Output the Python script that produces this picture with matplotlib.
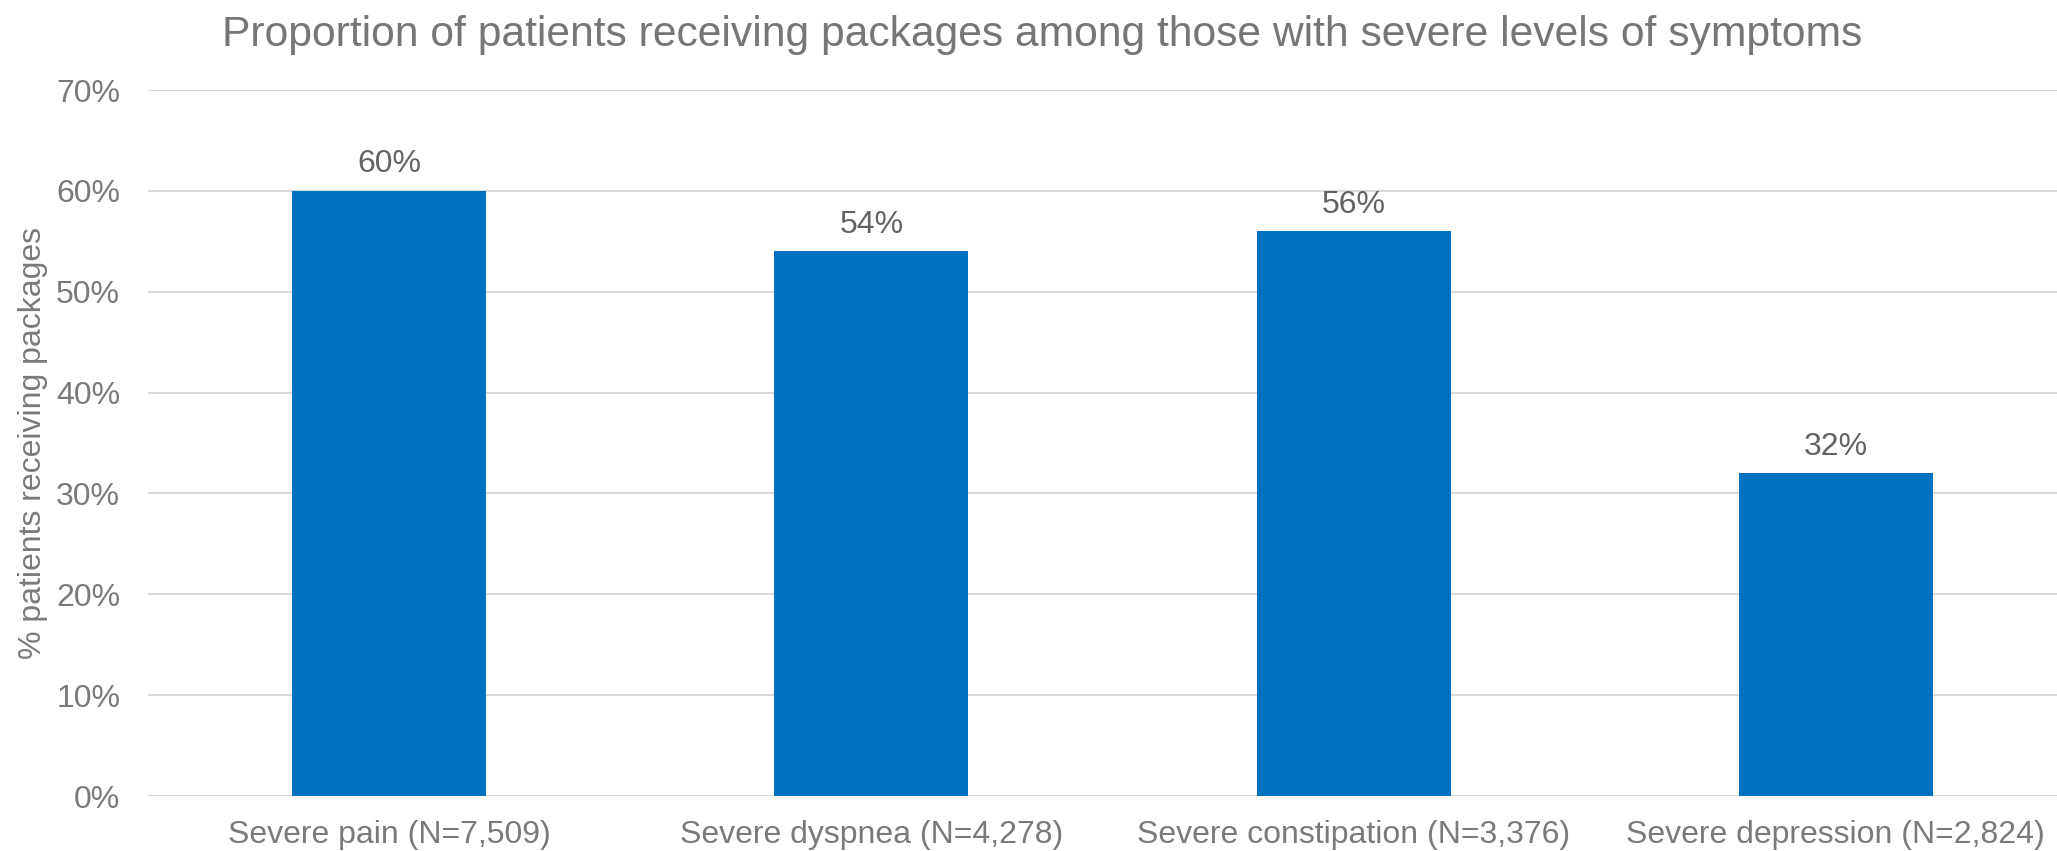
import matplotlib
matplotlib.use("Agg")
import matplotlib.pyplot as plt
from matplotlib.ticker import PercentFormatter

categories = ["Severe pain (N=7,509)", "Severe dyspnea (N=4,278)",
              "Severe constipation (N=3,376)", "Severe depression (N=2,824)"]
values = [60, 54, 56, 32]
yticks = [0, 10, 20, 30, 40, 50, 60, 70]

plt.rcParams['font.family'] = ['Liberation Sans', 'DejaVu Sans']

W, H = 2057, 851
fig = plt.figure(figsize=(W / 100, H / 100), dpi=100)
ax_left, ax_right = 148, 2077
ax = fig.add_axes([ax_left / W, 1 - 796 / H, (ax_right - ax_left) / W, (796 - 90) / H])

x = list(range(len(categories)))
bars = ax.bar(x, values, width=0.402, color="#0070C0", zorder=3)

ax.set_xlim(-0.5, 3.5)
ax.set_ylim(0, 70)
ax.set_yticks(yticks)
ax.yaxis.set_major_formatter(PercentFormatter(decimals=0))
ax.set_xticks(x)
ax.set_xticklabels(categories)

ax.grid(axis='y', color="#D9D9D9", linewidth=1.5, zorder=0)
ax.set_axisbelow(True)
for s in ax.spines.values():
    s.set_visible(False)
ax.tick_params(axis='both', length=0, labelsize=23, labelcolor="#7A7A7A")
ax.tick_params(axis='y', pad=20)
ax.tick_params(axis='x', pad=17)

for xi, v in zip(x, values):
    ax.annotate(f"{v}%", xy=(xi, v), xytext=(0, 13.3), textcoords='offset points',
                ha='center', va='baseline', fontsize=23, color="#636363")

ax.set_ylabel("% patients receiving packages", fontsize=23, color="#7A7A7A")
ax.yaxis.set_label_coords(-(ax_left - 48) / (ax_right - ax_left), (796 - 443) / (796 - 90))

fig.text(1042 / W, 1 - 46 / H, "Proportion of patients receiving packages among those with severe levels of symptoms",
         ha='center', va='baseline', fontsize=30.7, color="#767676")

fig.savefig("out.png", dpi=100)
